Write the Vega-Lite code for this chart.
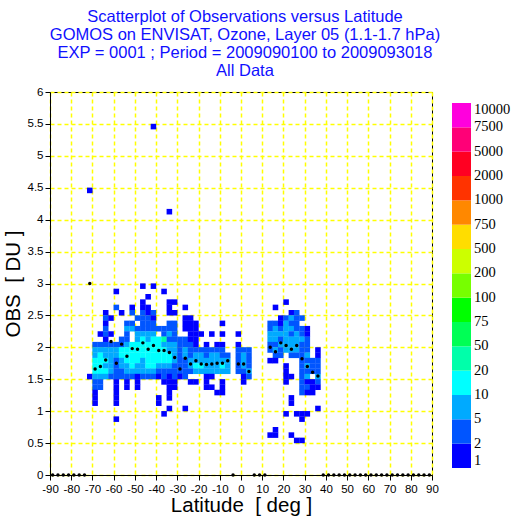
{
"$schema":"https://vega.github.io/schema/vega-lite/v6.json",
"width":382,"height":383,
"padding":{"left":3,"top":8,"right":0,"bottom":0},
"background":"white",
"title":{"text":["Scatterplot of Observations versus Latitude","GOMOS on ENVISAT, Ozone, Layer 05 (1.1-1.7 hPa)","EXP = 0001 ; Period = 2009090100 to 2009093018","All Data"],"color":"#1010ff","font":"Liberation Sans","fontSize":16.5,"fontWeight":"normal","lineHeight":18.3,"offset":6,"anchor":"middle","dx":4},
"config":{"view":{"stroke":"black","strokeWidth":1},
"axis":{"grid":true,"gridColor":"#ffff00","gridDash":[4,3],"gridWidth":1.5,"gridOpacity":1,"tickColor":"black","tickSize":5,"domainColor":"black","labelFont":"Liberation Sans","labelFontSize":11.5,"labelColor":"black","labelFlush":false,"labelOverlap":false,"labelSeparation":-40,"labelPadding":2,"titleFont":"Liberation Sans","titleFontSize":20.5,"titleFontWeight":"normal","titleColor":"black","titlePadding":4,"zindex":1},
"axisX":{"labelOverlap":false,"labelSeparation":-40},
"axisY":{"labelOverlap":false,"labelSeparation":-40}},
"datasets":{
"cells":[
{"lat":-41.25,"obs":5.4583,"lev":0},{"lat":-71.25,"obs":4.4583,"lev":0},{"lat":-33.75,"obs":4.125,"lev":0},
{"lat":-46.25,"obs":2.9583,"lev":0},{"lat":-41.25,"obs":2.9583,"lev":0},
{"lat":-58.75,"obs":2.875,"lev":0},{"lat":-36.25,"obs":2.875,"lev":0},
{"lat":-43.75,"obs":2.7917,"lev":0},
{"lat":-46.25,"obs":2.7083,"lev":0},{"lat":-33.75,"obs":2.7083,"lev":0},{"lat":-31.25,"obs":2.7083,"lev":0},
{"lat":-58.75,"obs":2.625,"lev":1},{"lat":-51.25,"obs":2.625,"lev":0},{"lat":-46.25,"obs":2.625,"lev":0},{"lat":-43.75,"obs":2.625,"lev":0},{"lat":-33.75,"obs":2.625,"lev":0},{"lat":-26.25,"obs":2.625,"lev":0},
{"lat":-63.75,"obs":2.5417,"lev":0},{"lat":-56.25,"obs":2.5417,"lev":0},{"lat":-51.25,"obs":2.5417,"lev":1},{"lat":-46.25,"obs":2.5417,"lev":1},{"lat":-43.75,"obs":2.5417,"lev":0},{"lat":-41.25,"obs":2.5417,"lev":1},{"lat":-33.75,"obs":2.5417,"lev":0},{"lat":-31.25,"obs":2.5417,"lev":0},
{"lat":-63.75,"obs":2.4583,"lev":1},{"lat":-61.25,"obs":2.4583,"lev":0},{"lat":-48.75,"obs":2.4583,"lev":1},{"lat":-46.25,"obs":2.4583,"lev":1},{"lat":-43.75,"obs":2.4583,"lev":1},{"lat":-41.25,"obs":2.4583,"lev":0},{"lat":-26.25,"obs":2.4583,"lev":0},{"lat":-23.75,"obs":2.4583,"lev":0},
{"lat":-63.75,"obs":2.375,"lev":0},{"lat":-53.75,"obs":2.375,"lev":1},{"lat":-51.25,"obs":2.375,"lev":1},{"lat":-46.25,"obs":2.375,"lev":1},{"lat":-43.75,"obs":2.375,"lev":1},{"lat":-41.25,"obs":2.375,"lev":1},{"lat":-33.75,"obs":2.375,"lev":1},{"lat":-31.25,"obs":2.375,"lev":1},{"lat":-26.25,"obs":2.375,"lev":0},{"lat":-23.75,"obs":2.375,"lev":0},{"lat":-21.25,"obs":2.375,"lev":0},{"lat":-8.75,"obs":2.375,"lev":0},
{"lat":-63.75,"obs":2.2917,"lev":1},{"lat":-53.75,"obs":2.2917,"lev":2},{"lat":-51.25,"obs":2.2917,"lev":2},{"lat":-48.75,"obs":2.2917,"lev":1},{"lat":-46.25,"obs":2.2917,"lev":1},{"lat":-43.75,"obs":2.2917,"lev":1},{"lat":-41.25,"obs":2.2917,"lev":1},{"lat":-38.75,"obs":2.2917,"lev":1},{"lat":-36.25,"obs":2.2917,"lev":1},{"lat":-33.75,"obs":2.2917,"lev":1},{"lat":-31.25,"obs":2.2917,"lev":1},{"lat":-26.25,"obs":2.2917,"lev":0},{"lat":-23.75,"obs":2.2917,"lev":0},{"lat":-21.25,"obs":2.2917,"lev":0},
{"lat":-66.25,"obs":2.2083,"lev":0},{"lat":-63.75,"obs":2.2083,"lev":1},{"lat":-61.25,"obs":2.2083,"lev":0},{"lat":-53.75,"obs":2.2083,"lev":1},{"lat":-48.75,"obs":2.2083,"lev":2},{"lat":-46.25,"obs":2.2083,"lev":2},{"lat":-43.75,"obs":2.2083,"lev":2},{"lat":-41.25,"obs":2.2083,"lev":2},{"lat":-36.25,"obs":2.2083,"lev":1},{"lat":-33.75,"obs":2.2083,"lev":2},{"lat":-31.25,"obs":2.2083,"lev":1},{"lat":-23.75,"obs":2.2083,"lev":0},{"lat":-21.25,"obs":2.2083,"lev":0},{"lat":-18.75,"obs":2.2083,"lev":0},{"lat":-13.75,"obs":2.2083,"lev":0},{"lat":-8.75,"obs":2.2083,"lev":0},{"lat":-1.25,"obs":2.2083,"lev":0},
{"lat":-63.75,"obs":2.125,"lev":0},{"lat":-56.25,"obs":2.125,"lev":1},{"lat":-53.75,"obs":2.125,"lev":1},{"lat":-48.75,"obs":2.125,"lev":2},{"lat":-46.25,"obs":2.125,"lev":3},{"lat":-43.75,"obs":2.125,"lev":2},{"lat":-41.25,"obs":2.125,"lev":3},{"lat":-38.75,"obs":2.125,"lev":3},{"lat":-36.25,"obs":2.125,"lev":4},{"lat":-33.75,"obs":2.125,"lev":1},{"lat":-31.25,"obs":2.125,"lev":1},{"lat":-28.75,"obs":2.125,"lev":1},{"lat":-26.25,"obs":2.125,"lev":1},{"lat":-23.75,"obs":2.125,"lev":0},{"lat":-21.25,"obs":2.125,"lev":0},
{"lat":-68.75,"obs":2.0417,"lev":1},{"lat":-66.25,"obs":2.0417,"lev":1},{"lat":-63.75,"obs":2.0417,"lev":1},{"lat":-61.25,"obs":2.0417,"lev":1},{"lat":-58.75,"obs":2.0417,"lev":1},{"lat":-56.25,"obs":2.0417,"lev":1},{"lat":-53.75,"obs":2.0417,"lev":2},{"lat":-51.25,"obs":2.0417,"lev":3},{"lat":-48.75,"obs":2.0417,"lev":3},{"lat":-46.25,"obs":2.0417,"lev":3},{"lat":-43.75,"obs":2.0417,"lev":3},{"lat":-41.25,"obs":2.0417,"lev":3},{"lat":-38.75,"obs":2.0417,"lev":3},{"lat":-36.25,"obs":2.0417,"lev":2},{"lat":-33.75,"obs":2.0417,"lev":2},{"lat":-31.25,"obs":2.0417,"lev":2},{"lat":-28.75,"obs":2.0417,"lev":1},{"lat":-26.25,"obs":2.0417,"lev":1},{"lat":-23.75,"obs":2.0417,"lev":1},{"lat":-21.25,"obs":2.0417,"lev":0},{"lat":-16.25,"obs":2.0417,"lev":0},{"lat":-11.25,"obs":2.0417,"lev":0},{"lat":-8.75,"obs":2.0417,"lev":0},{"lat":-1.25,"obs":2.0417,"lev":0},
{"lat":-68.75,"obs":1.9583,"lev":2},{"lat":-66.25,"obs":1.9583,"lev":2},{"lat":-63.75,"obs":1.9583,"lev":2},{"lat":-61.25,"obs":1.9583,"lev":2},{"lat":-58.75,"obs":1.9583,"lev":2},{"lat":-56.25,"obs":1.9583,"lev":3},{"lat":-53.75,"obs":1.9583,"lev":3},{"lat":-51.25,"obs":1.9583,"lev":3},{"lat":-48.75,"obs":1.9583,"lev":3},{"lat":-46.25,"obs":1.9583,"lev":3},{"lat":-43.75,"obs":1.9583,"lev":3},{"lat":-41.25,"obs":1.9583,"lev":3},{"lat":-38.75,"obs":1.9583,"lev":3},{"lat":-36.25,"obs":1.9583,"lev":3},{"lat":-33.75,"obs":1.9583,"lev":2},{"lat":-31.25,"obs":1.9583,"lev":2},{"lat":-28.75,"obs":1.9583,"lev":1},{"lat":-26.25,"obs":1.9583,"lev":2},{"lat":-23.75,"obs":1.9583,"lev":1},{"lat":-21.25,"obs":1.9583,"lev":1},{"lat":-18.75,"obs":1.9583,"lev":1},{"lat":-16.25,"obs":1.9583,"lev":1},{"lat":-13.75,"obs":1.9583,"lev":1},{"lat":-11.25,"obs":1.9583,"lev":1},{"lat":-8.75,"obs":1.9583,"lev":1},{"lat":-1.25,"obs":1.9583,"lev":1},{"lat":1.25,"obs":1.9583,"lev":1},{"lat":3.75,"obs":1.9583,"lev":1},
{"lat":-68.75,"obs":1.875,"lev":2},{"lat":-66.25,"obs":1.875,"lev":3},{"lat":-63.75,"obs":1.875,"lev":2},{"lat":-61.25,"obs":1.875,"lev":2},{"lat":-58.75,"obs":1.875,"lev":2},{"lat":-56.25,"obs":1.875,"lev":3},{"lat":-53.75,"obs":1.875,"lev":3},{"lat":-51.25,"obs":1.875,"lev":3},{"lat":-48.75,"obs":1.875,"lev":3},{"lat":-46.25,"obs":1.875,"lev":3},{"lat":-43.75,"obs":1.875,"lev":3},{"lat":-41.25,"obs":1.875,"lev":3},{"lat":-38.75,"obs":1.875,"lev":3},{"lat":-36.25,"obs":1.875,"lev":3},{"lat":-33.75,"obs":1.875,"lev":3},{"lat":-31.25,"obs":1.875,"lev":2},{"lat":-28.75,"obs":1.875,"lev":1},{"lat":-26.25,"obs":1.875,"lev":2},{"lat":-23.75,"obs":1.875,"lev":1},{"lat":-21.25,"obs":1.875,"lev":2},{"lat":-18.75,"obs":1.875,"lev":2},{"lat":-16.25,"obs":1.875,"lev":1},{"lat":-13.75,"obs":1.875,"lev":2},{"lat":-11.25,"obs":1.875,"lev":2},{"lat":-8.75,"obs":1.875,"lev":1},{"lat":-6.25,"obs":1.875,"lev":1},{"lat":-1.25,"obs":1.875,"lev":1},{"lat":1.25,"obs":1.875,"lev":2},{"lat":3.75,"obs":1.875,"lev":1},
{"lat":-68.75,"obs":1.7917,"lev":3},{"lat":-66.25,"obs":1.7917,"lev":3},{"lat":-63.75,"obs":1.7917,"lev":3},{"lat":-61.25,"obs":1.7917,"lev":2},{"lat":-58.75,"obs":1.7917,"lev":1},{"lat":-56.25,"obs":1.7917,"lev":2},{"lat":-53.75,"obs":1.7917,"lev":3},{"lat":-51.25,"obs":1.7917,"lev":3},{"lat":-48.75,"obs":1.7917,"lev":3},{"lat":-46.25,"obs":1.7917,"lev":2},{"lat":-43.75,"obs":1.7917,"lev":3},{"lat":-41.25,"obs":1.7917,"lev":3},{"lat":-38.75,"obs":1.7917,"lev":3},{"lat":-36.25,"obs":1.7917,"lev":3},{"lat":-33.75,"obs":1.7917,"lev":3},{"lat":-31.25,"obs":1.7917,"lev":2},{"lat":-28.75,"obs":1.7917,"lev":1},{"lat":-26.25,"obs":1.7917,"lev":1},{"lat":-23.75,"obs":1.7917,"lev":2},{"lat":-21.25,"obs":1.7917,"lev":2},{"lat":-18.75,"obs":1.7917,"lev":2},{"lat":-16.25,"obs":1.7917,"lev":2},{"lat":-13.75,"obs":1.7917,"lev":2},{"lat":-11.25,"obs":1.7917,"lev":2},{"lat":-8.75,"obs":1.7917,"lev":2},{"lat":-6.25,"obs":1.7917,"lev":2},{"lat":-1.25,"obs":1.7917,"lev":1},{"lat":1.25,"obs":1.7917,"lev":2},{"lat":3.75,"obs":1.7917,"lev":1},
{"lat":-68.75,"obs":1.7083,"lev":3},{"lat":-66.25,"obs":1.7083,"lev":3},{"lat":-63.75,"obs":1.7083,"lev":2},{"lat":-61.25,"obs":1.7083,"lev":2},{"lat":-58.75,"obs":1.7083,"lev":1},{"lat":-56.25,"obs":1.7083,"lev":2},{"lat":-53.75,"obs":1.7083,"lev":2},{"lat":-51.25,"obs":1.7083,"lev":3},{"lat":-48.75,"obs":1.7083,"lev":2},{"lat":-46.25,"obs":1.7083,"lev":2},{"lat":-43.75,"obs":1.7083,"lev":3},{"lat":-41.25,"obs":1.7083,"lev":3},{"lat":-38.75,"obs":1.7083,"lev":2},{"lat":-36.25,"obs":1.7083,"lev":2},{"lat":-33.75,"obs":1.7083,"lev":2},{"lat":-31.25,"obs":1.7083,"lev":1},{"lat":-28.75,"obs":1.7083,"lev":1},{"lat":-26.25,"obs":1.7083,"lev":1},{"lat":-23.75,"obs":1.7083,"lev":2},{"lat":-21.25,"obs":1.7083,"lev":3},{"lat":-18.75,"obs":1.7083,"lev":3},{"lat":-16.25,"obs":1.7083,"lev":2},{"lat":-13.75,"obs":1.7083,"lev":2},{"lat":-11.25,"obs":1.7083,"lev":2},{"lat":-8.75,"obs":1.7083,"lev":3},{"lat":-6.25,"obs":1.7083,"lev":2},{"lat":-1.25,"obs":1.7083,"lev":1},{"lat":1.25,"obs":1.7083,"lev":2},{"lat":3.75,"obs":1.7083,"lev":1},
{"lat":-68.75,"obs":1.625,"lev":3},{"lat":-66.25,"obs":1.625,"lev":3},{"lat":-63.75,"obs":1.625,"lev":3},{"lat":-61.25,"obs":1.625,"lev":2},{"lat":-58.75,"obs":1.625,"lev":1},{"lat":-56.25,"obs":1.625,"lev":1},{"lat":-53.75,"obs":1.625,"lev":2},{"lat":-51.25,"obs":1.625,"lev":2},{"lat":-48.75,"obs":1.625,"lev":2},{"lat":-46.25,"obs":1.625,"lev":2},{"lat":-43.75,"obs":1.625,"lev":2},{"lat":-41.25,"obs":1.625,"lev":2},{"lat":-38.75,"obs":1.625,"lev":1},{"lat":-36.25,"obs":1.625,"lev":1},{"lat":-33.75,"obs":1.625,"lev":1},{"lat":-31.25,"obs":1.625,"lev":1},{"lat":-28.75,"obs":1.625,"lev":1},{"lat":-26.25,"obs":1.625,"lev":1},{"lat":-23.75,"obs":1.625,"lev":1},{"lat":-21.25,"obs":1.625,"lev":2},{"lat":-18.75,"obs":1.625,"lev":2},{"lat":-16.25,"obs":1.625,"lev":2},{"lat":-13.75,"obs":1.625,"lev":2},{"lat":-11.25,"obs":1.625,"lev":2},{"lat":-8.75,"obs":1.625,"lev":2},{"lat":-6.25,"obs":1.625,"lev":2},{"lat":-1.25,"obs":1.625,"lev":1},{"lat":1.25,"obs":1.625,"lev":1},{"lat":3.75,"obs":1.625,"lev":2},
{"lat":-71.25,"obs":1.5417,"lev":0},{"lat":-68.75,"obs":1.5417,"lev":2},{"lat":-66.25,"obs":1.5417,"lev":2},{"lat":-63.75,"obs":1.5417,"lev":2},{"lat":-61.25,"obs":1.5417,"lev":1},{"lat":-58.75,"obs":1.5417,"lev":1},{"lat":-56.25,"obs":1.5417,"lev":1},{"lat":-53.75,"obs":1.5417,"lev":1},{"lat":-51.25,"obs":1.5417,"lev":1},{"lat":-48.75,"obs":1.5417,"lev":0},{"lat":-46.25,"obs":1.5417,"lev":1},{"lat":-43.75,"obs":1.5417,"lev":1},{"lat":-41.25,"obs":1.5417,"lev":1},{"lat":-38.75,"obs":1.5417,"lev":0},{"lat":-36.25,"obs":1.5417,"lev":1},{"lat":-33.75,"obs":1.5417,"lev":0},{"lat":-31.25,"obs":1.5417,"lev":1},{"lat":-28.75,"obs":1.5417,"lev":0},{"lat":-26.25,"obs":1.5417,"lev":1},{"lat":-16.25,"obs":1.5417,"lev":0},{"lat":-13.75,"obs":1.5417,"lev":0},{"lat":1.25,"obs":1.5417,"lev":0},{"lat":3.75,"obs":1.5417,"lev":1},
{"lat":-68.75,"obs":1.4583,"lev":1},{"lat":-66.25,"obs":1.4583,"lev":1},{"lat":-58.75,"obs":1.4583,"lev":0},{"lat":-53.75,"obs":1.4583,"lev":0},{"lat":-48.75,"obs":1.4583,"lev":0},{"lat":-36.25,"obs":1.4583,"lev":0},{"lat":-33.75,"obs":1.4583,"lev":0},{"lat":-31.25,"obs":1.4583,"lev":0},{"lat":-23.75,"obs":1.4583,"lev":0},{"lat":-21.25,"obs":1.4583,"lev":0},{"lat":-16.25,"obs":1.4583,"lev":0},{"lat":-8.75,"obs":1.4583,"lev":0},{"lat":1.25,"obs":1.4583,"lev":0},
{"lat":-68.75,"obs":1.375,"lev":1},{"lat":-66.25,"obs":1.375,"lev":1},{"lat":-58.75,"obs":1.375,"lev":0},{"lat":-53.75,"obs":1.375,"lev":0},{"lat":-48.75,"obs":1.375,"lev":0},{"lat":-33.75,"obs":1.375,"lev":0},{"lat":-31.25,"obs":1.375,"lev":0},{"lat":-16.25,"obs":1.375,"lev":0},{"lat":-13.75,"obs":1.375,"lev":0},{"lat":-8.75,"obs":1.375,"lev":0},
{"lat":-68.75,"obs":1.2917,"lev":0},{"lat":-58.75,"obs":1.2917,"lev":0},{"lat":-33.75,"obs":1.2917,"lev":0},{"lat":-11.25,"obs":1.2917,"lev":0},{"lat":-8.75,"obs":1.2917,"lev":0},
{"lat":-68.75,"obs":1.2083,"lev":0},{"lat":-58.75,"obs":1.2083,"lev":0},{"lat":-38.75,"obs":1.2083,"lev":0},{"lat":-33.75,"obs":1.2083,"lev":0},
{"lat":-68.75,"obs":1.125,"lev":0},{"lat":-58.75,"obs":1.125,"lev":0},{"lat":-38.75,"obs":1.125,"lev":0},
{"lat":-33.75,"obs":1.0417,"lev":0},{"lat":-26.25,"obs":1.0417,"lev":0},
{"lat":-36.25,"obs":0.9583,"lev":0},
{"lat":-58.75,"obs":0.875,"lev":0},
{"lat":21.25,"obs":2.7083,"lev":0},
{"lat":16.25,"obs":2.625,"lev":0},
{"lat":23.75,"obs":2.5417,"lev":0},{"lat":26.25,"obs":2.5417,"lev":1},
{"lat":18.75,"obs":2.4583,"lev":0},{"lat":21.25,"obs":2.4583,"lev":1},{"lat":23.75,"obs":2.4583,"lev":2},{"lat":26.25,"obs":2.4583,"lev":1},{"lat":28.75,"obs":2.4583,"lev":1},
{"lat":13.75,"obs":2.375,"lev":1},{"lat":16.25,"obs":2.375,"lev":1},{"lat":18.75,"obs":2.375,"lev":0},{"lat":21.25,"obs":2.375,"lev":2},{"lat":23.75,"obs":2.375,"lev":1},{"lat":26.25,"obs":2.375,"lev":1},
{"lat":13.75,"obs":2.2917,"lev":1},{"lat":16.25,"obs":2.2917,"lev":2},{"lat":18.75,"obs":2.2917,"lev":1},{"lat":21.25,"obs":2.2917,"lev":2},{"lat":23.75,"obs":2.2917,"lev":2},{"lat":26.25,"obs":2.2917,"lev":1},{"lat":28.75,"obs":2.2917,"lev":1},{"lat":31.25,"obs":2.2917,"lev":0},
{"lat":13.75,"obs":2.2083,"lev":2},{"lat":16.25,"obs":2.2083,"lev":2},{"lat":18.75,"obs":2.2083,"lev":2},{"lat":21.25,"obs":2.2083,"lev":2},{"lat":23.75,"obs":2.2083,"lev":1},{"lat":26.25,"obs":2.2083,"lev":2},{"lat":28.75,"obs":2.2083,"lev":1},{"lat":31.25,"obs":2.2083,"lev":0},
{"lat":13.75,"obs":2.125,"lev":2},{"lat":16.25,"obs":2.125,"lev":2},{"lat":18.75,"obs":2.125,"lev":1},{"lat":21.25,"obs":2.125,"lev":2},{"lat":23.75,"obs":2.125,"lev":2},{"lat":26.25,"obs":2.125,"lev":2},{"lat":28.75,"obs":2.125,"lev":2},{"lat":31.25,"obs":2.125,"lev":1},
{"lat":13.75,"obs":2.0417,"lev":1},{"lat":16.25,"obs":2.0417,"lev":1},{"lat":18.75,"obs":2.0417,"lev":2},{"lat":21.25,"obs":2.0417,"lev":2},{"lat":23.75,"obs":2.0417,"lev":2},{"lat":26.25,"obs":2.0417,"lev":2},{"lat":28.75,"obs":2.0417,"lev":1},{"lat":31.25,"obs":2.0417,"lev":1},
{"lat":13.75,"obs":1.9583,"lev":1},{"lat":16.25,"obs":1.9583,"lev":2},{"lat":18.75,"obs":1.9583,"lev":1},{"lat":21.25,"obs":1.9583,"lev":2},{"lat":23.75,"obs":1.9583,"lev":2},{"lat":26.25,"obs":1.9583,"lev":2},{"lat":28.75,"obs":1.9583,"lev":1},{"lat":31.25,"obs":1.9583,"lev":1},{"lat":36.25,"obs":1.9583,"lev":0},
{"lat":16.25,"obs":1.875,"lev":1},{"lat":18.75,"obs":1.875,"lev":1},{"lat":23.75,"obs":1.875,"lev":1},{"lat":26.25,"obs":1.875,"lev":1},{"lat":28.75,"obs":1.875,"lev":1},{"lat":31.25,"obs":1.875,"lev":2},{"lat":36.25,"obs":1.875,"lev":0},
{"lat":13.75,"obs":1.7917,"lev":0},{"lat":16.25,"obs":1.7917,"lev":0},{"lat":28.75,"obs":1.7917,"lev":1},{"lat":31.25,"obs":1.7917,"lev":1},{"lat":33.75,"obs":1.7917,"lev":1},{"lat":36.25,"obs":1.7917,"lev":1},
{"lat":21.25,"obs":1.7083,"lev":0},{"lat":28.75,"obs":1.7083,"lev":1},{"lat":31.25,"obs":1.7083,"lev":2},{"lat":33.75,"obs":1.7083,"lev":1},{"lat":36.25,"obs":1.7083,"lev":1},
{"lat":21.25,"obs":1.625,"lev":0},{"lat":28.75,"obs":1.625,"lev":1},{"lat":31.25,"obs":1.625,"lev":1},{"lat":33.75,"obs":1.625,"lev":1},{"lat":36.25,"obs":1.625,"lev":1},
{"lat":21.25,"obs":1.5417,"lev":0},{"lat":23.75,"obs":1.5417,"lev":0},{"lat":28.75,"obs":1.5417,"lev":1},{"lat":31.25,"obs":1.5417,"lev":2},{"lat":36.25,"obs":1.5417,"lev":2},
{"lat":21.25,"obs":1.4583,"lev":0},{"lat":28.75,"obs":1.4583,"lev":1},{"lat":31.25,"obs":1.4583,"lev":0},{"lat":33.75,"obs":1.4583,"lev":0},{"lat":36.25,"obs":1.4583,"lev":1},
{"lat":28.75,"obs":1.375,"lev":1},{"lat":31.25,"obs":1.375,"lev":1},{"lat":33.75,"obs":1.375,"lev":0},{"lat":36.25,"obs":1.375,"lev":0},
{"lat":28.75,"obs":1.2917,"lev":1},{"lat":31.25,"obs":1.2917,"lev":0},{"lat":33.75,"obs":1.2917,"lev":0},
{"lat":23.75,"obs":1.2083,"lev":0},
{"lat":23.75,"obs":1.125,"lev":0},
{"lat":36.25,"obs":1.0417,"lev":0},
{"lat":21.25,"obs":0.9583,"lev":0},{"lat":26.25,"obs":0.9583,"lev":0},{"lat":28.75,"obs":0.9583,"lev":0},{"lat":31.25,"obs":0.9583,"lev":0},
{"lat":28.75,"obs":0.875,"lev":0},
{"lat":16.25,"obs":0.7083,"lev":0},
{"lat":13.75,"obs":0.625,"lev":0},{"lat":16.25,"obs":0.625,"lev":0},{"lat":23.75,"obs":0.625,"lev":0},
{"lat":26.25,"obs":0.5417,"lev":0},{"lat":28.75,"obs":0.5417,"lev":0}
],
"means":[
{"lat":-88.75,"obs":0},{"lat":-86.25,"obs":0},{"lat":-83.75,"obs":0},{"lat":-81.25,"obs":0},{"lat":-78.75,"obs":0},{"lat":-76.25,"obs":0},{"lat":-73.75,"obs":0},
{"lat":-71.25,"obs":3.0},{"lat":-68.75,"obs":1.66},{"lat":-66.25,"obs":1.70},{"lat":-63.75,"obs":1.80},{"lat":-61.25,"obs":2.09},{"lat":-58.75,"obs":1.75},{"lat":-56.25,"obs":2.05},{"lat":-53.75,"obs":1.86},{"lat":-51.25,"obs":1.98},{"lat":-48.75,"obs":1.97},{"lat":-46.25,"obs":2.07},{"lat":-43.75,"obs":1.97},{"lat":-41.25,"obs":2.03},{"lat":-38.75,"obs":1.95},{"lat":-36.25,"obs":1.95},{"lat":-33.75,"obs":1.92},{"lat":-31.25,"obs":1.84},{"lat":-28.75,"obs":1.66},{"lat":-26.25,"obs":1.83},{"lat":-23.75,"obs":1.74},{"lat":-21.25,"obs":1.79},{"lat":-18.75,"obs":1.74},{"lat":-16.25,"obs":1.73},{"lat":-13.75,"obs":1.74},{"lat":-11.25,"obs":1.75},{"lat":-8.75,"obs":1.75},{"lat":-6.25,"obs":1.79},{"lat":-3.75,"obs":0},{"lat":-1.25,"obs":1.74},{"lat":1.25,"obs":1.74},{"lat":3.75,"obs":1.62},
{"lat":6.25,"obs":0},{"lat":8.75,"obs":0},{"lat":11.25,"obs":0},
{"lat":13.75,"obs":2.0},{"lat":16.25,"obs":1.93},{"lat":18.75,"obs":2.07},{"lat":21.25,"obs":2.03},{"lat":23.75,"obs":1.97},{"lat":26.25,"obs":2.03},{"lat":28.75,"obs":1.82},{"lat":31.25,"obs":1.70},{"lat":33.75,"obs":1.61},{"lat":36.25,"obs":1.55},
{"lat":38.75,"obs":0},{"lat":41.25,"obs":0},{"lat":43.75,"obs":0},{"lat":46.25,"obs":0},{"lat":48.75,"obs":0},{"lat":51.25,"obs":0},{"lat":53.75,"obs":0},{"lat":56.25,"obs":0},{"lat":58.75,"obs":0},{"lat":61.25,"obs":0},{"lat":63.75,"obs":0},{"lat":66.25,"obs":0},{"lat":68.75,"obs":0},{"lat":71.25,"obs":0},{"lat":73.75,"obs":0},{"lat":76.25,"obs":0},{"lat":78.75,"obs":0},{"lat":81.25,"obs":0},{"lat":83.75,"obs":0},{"lat":86.25,"obs":0},{"lat":88.75,"obs":0}
]},
"layer":[
{"data":{"name":"cells"},
 "mark":{"type":"square","size":31,"opacity":1,"filled":true,"strokeWidth":0},
 "encoding":{
  "x":{"field":"lat","type":"quantitative","scale":{"domain":[-90,90],"nice":false,"zero":false},"axis":{"values":[-90,-80,-70,-60,-50,-40,-30,-20,-10,0,10,20,30,40,50,60,70,80,90],"labelExpr":"'' + datum.value","labelOverlap":false,"labelSeparation":-40,"labelFlush":false,"labelPadding":3,"titlePadding":1,"title":"Latitude \u00a0[ deg ]"}},
  "y":{"field":"obs","type":"quantitative","scale":{"domain":[0,6],"nice":false,"zero":false},"axis":{"values":[0,0.5,1,1.5,2,2.5,3,3.5,4,4.5,5,5.5,6],"labelExpr":"'' + datum.value","labelOverlap":false,"labelSeparation":-40,"labelFlush":false,"title":"OBS \u00a0[ DU ]"}},
  "color":{"field":"lev","type":"quantitative","scale":{"type":"quantize","domain":[0,15],"nice":false,"zero":false,"range":["#0000ff","#0055ff","#00aaff","#00ffff","#00ffaa","#00ff55","#00ff00","#77ff00","#ccff00","#ffdd00","#ff8800","#ff3300","#ff0022","#ff0077","#ff00dd"]},
   "legend":{"type":"gradient","direction":"vertical","orient":"right","offset":9,"padding":11,"gradientLength":365,"gradientThickness":19,"gradientStrokeWidth":0,"values":[0,1,2,3,4,5,6,7,8,9,10,11,12,13,14,15],"labelExpr":"['1','2','5','10','20','50','75','100','200','500','750','1000','2000','5000','7500','10000'][datum.value]","labelFont":"Liberation Serif","labelFontSize":14.5,"labelColor":"black","labelOffset":3,"labelBaseline":"middle","labelOverlap":false,"title":null}}
 }},
{"data":{"name":"means"},
 "mark":{"type":"circle","size":12,"color":"black","opacity":1},
 "encoding":{"x":{"field":"lat","type":"quantitative","axis":{"values":[-90,-80,-70,-60,-50,-40,-30,-20,-10,0,10,20,30,40,50,60,70,80,90],"labelOverlap":false}},"y":{"field":"obs","type":"quantitative","axis":{"values":[0,0.5,1,1.5,2,2.5,3,3.5,4,4.5,5,5.5,6],"labelOverlap":false}}}}
]
}
